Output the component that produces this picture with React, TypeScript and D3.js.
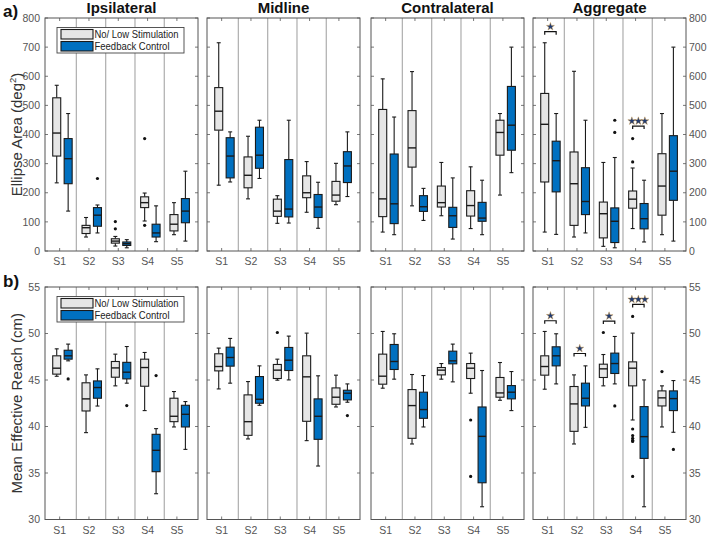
import React from 'react';
import * as d3 from 'd3';

const subjects = ['S1', 'S2', 'S3', 'S4', 'S5'];
const panelTitles = ['Ipsilateral', 'Midline', 'Contralateral', 'Aggregate'];
const legendLabels = ['No/ Low Stimulation', 'Feedback Control'];
const areaTicks = [0, 100, 200, 300, 400, 500, 600, 700, 800];
const reachTicks = [30, 35, 40, 45, 50, 55];

// box stats per subject: [lower whisker, q1, median, q3, upper whisker]
// a) Ellipse area (deg^2)
const ipsiAreaLow = [[234, 326, 405, 526, 569], [48, 60, 80, 88, 115], [17, 27, 34, 42, 50], [103, 149, 166, 186, 199], [56, 69, 92, 125, 166]];
const ipsiAreaHigh = [[137, 231, 317, 386, 472], [62, 85, 123, 149, 158], [11, 19, 25, 31, 39], [32, 48, 62, 92, 155], [34, 97, 137, 180, 274]];
const midAreaLow = [[226, 415, 480, 561, 715], [179, 217, 260, 323, 394], [95, 119, 137, 178, 190], [133, 183, 200, 258, 307], [159, 171, 192, 239, 301]];
const midAreaHigh = [[237, 251, 326, 389, 409], [249, 284, 329, 425, 449], [96, 117, 144, 314, 449], [78, 115, 151, 194, 236], [187, 235, 292, 341, 409]];
const contraAreaLow = [[65, 118, 179, 486, 591], [155, 288, 354, 482, 616], [121, 151, 166, 223, 304], [77, 120, 156, 207, 289], [192, 329, 407, 449, 472]];
const contraAreaHigh = [[56, 94, 162, 333, 460], [105, 136, 152, 190, 215], [41, 81, 121, 150, 251], [56, 102, 113, 167, 243], [269, 346, 432, 565, 700]];
const aggAreaLow = [[65, 237, 435, 541, 715], [48, 88, 231, 340, 617], [16, 45, 128, 168, 304], [77, 147, 178, 206, 285], [56, 123, 223, 334, 472]];
const aggAreaHigh = [[57, 203, 310, 377, 472], [62, 125, 170, 286, 449], [11, 29, 102, 148, 321], [31, 76, 111, 163, 243], [34, 174, 274, 396, 700]];

// b) Mean effective reach (cm)
const ipsiReachLow = [[45.4, 45.63, 46.27, 47.6, 48.35], [39.34, 41.67, 42.97, 44.7, 45.55], [44.37, 45.3, 46.3, 46.99, 47.78], [41.71, 44.33, 46.34, 47.24, 47.96], [39.95, 40.52, 41.1, 43.04, 43.76]];
const ipsiReachHigh = [[47.06, 47.24, 47.6, 48.2, 48.86], [42.2, 43.04, 44.19, 44.9, 46.2], [44.66, 45.12, 45.84, 46.9, 48.6], [32.77, 35.14, 37.44, 39.16, 39.77], [37.54, 39.95, 41.31, 42.28, 42.68]];
const midReachLow = [[44.04, 45.98, 46.45, 47.82, 48.43], [38.66, 39.05, 40.52, 43.4, 44.83], [44.98, 45.16, 46.06, 46.67, 47.24], [38.48, 40.56, 45.34, 47.6, 50.04], [42.1, 42.39, 43.15, 44.15, 45.52]];
const midReachHigh = [[44.66, 46.49, 47.42, 48.53, 49.47], [42.28, 42.5, 42.93, 45.37, 46.52], [45.01, 46.02, 47.13, 48.5, 49.72], [35.75, 38.62, 41.1, 42.97, 45.45], [42.61, 42.86, 43.58, 43.9, 44.58]];
const contraReachLow = [[44.12, 44.55, 45.41, 47.78, 50.22], [38.12, 38.73, 42.25, 43.97, 45.59], [45.09, 45.55, 46.06, 46.34, 46.77], [43.58, 45.16, 46.27, 46.77, 47.89], [42.82, 43.15, 43.61, 45.27, 46.88]];
const contraReachHigh = [[45.09, 46.13, 46.99, 48.82, 49.97], [39.95, 40.88, 41.82, 43.69, 45.48], [44.8, 46.74, 47.06, 48.1, 48.86], [31.37, 33.95, 38.94, 42.1, 46.02], [41.71, 42.97, 43.69, 44.4, 45.91]];
const aggReachLow = [[44.01, 45.52, 46.45, 47.6, 50.22], [38.12, 39.48, 42.43, 44.3, 45.55], [44.37, 45.27, 46.2, 46.7, 47.74], [40.7, 44.37, 46.27, 46.95, 50.04], [39.95, 42.21, 43.08, 43.83, 44.37]];
const aggReachHigh = [[44.58, 46.52, 47.6, 48.57, 49.97], [39.91, 42.21, 43.04, 44.66, 46.52], [44.58, 45.7, 46.77, 47.89, 49.68], [31.37, 36.57, 38.91, 42.14, 45.01], [39.38, 41.71, 43.0, 43.83, 44.94]];

// outliers: [subject, group (0 = no/low, 1 = feedback), value]
const ipsiAreaOut = [[3, 0, 101], [3, 0, 76], [4, 0, 386], [4, 0, 88], [2, 1, 249]];
const aggAreaOut = [[4, 0, 386], [4, 0, 306], [3, 1, 449], [3, 1, 407]];
const ipsiReachOut = [[1, 1, 45.12], [3, 1, 42.25], [4, 1, 45.48]];
const midReachOut = [[3, 0, 50.11], [5, 1, 41.17]];
const contraReachOut = [[4, 0, 40.7], [4, 0, 34.63]];
const aggReachOut = [[3, 0, 50.11], [4, 0, 51.84], [4, 0, 39.73], [4, 0, 39.02], [4, 0, 38.73], [4, 0, 38.51], [4, 0, 38.4], [4, 0, 34.63], [5, 0, 45.91], [3, 1, 42.21], [5, 1, 37.54]];

// significance brackets: [subject, value, number of stars]
const aggAreaSig = [[1, 753, 1], [4, 429, 3]];
const aggReachSig = [[1, 51.37, 1], [2, 47.85, 1], [3, 51.34, 1], [4, 53.13, 3]];

const W = 708;
const H = 534;
const panelLefts = [45, 207, 371, 533];
const panelW = 153;
const font = 'Arial, "Liberation Sans", sans-serif';
const fills = ['#e6e6e6', '#0070c0'];
const axisColor = '#555';

const x = d3.scaleLinear().domain([0.5, 5.72]).range([0, panelW]);
const yA = d3.scaleLinear().domain([0, 800]).range([251, 18]);
const yB = d3.scaleLinear().domain([30, 55]).range([519.5, 287]);
const groupOffset = [-0.1, 0.29];
const boxW = 8;
const star = d3.symbol(d3.symbolStar, 20)();

function Box({ cx, s, y, fill }) {
  const [lo, q1, med, q3, hi] = s;
  const c = '#1a1a1a';
  return (
    <g stroke={c} strokeWidth={1.1}>
      <line x1={cx} x2={cx} y1={y(hi)} y2={y(q3)} />
      <line x1={cx} x2={cx} y1={y(q1)} y2={y(lo)} />
      <line x1={cx - 2} x2={cx + 2} y1={y(hi)} y2={y(hi)} />
      <line x1={cx - 2} x2={cx + 2} y1={y(lo)} y2={y(lo)} />
      <rect x={cx - boxW / 2} y={y(q3)} width={boxW} height={y(q1) - y(q3)} fill={fill} />
      <line x1={cx - boxW / 2} x2={cx + boxW / 2} y1={y(med)} y2={y(med)} strokeWidth={1.4} />
    </g>
  );
}

function Panel({ idx, y, ticks, low, high, out, sig, legend }) {
  const left = panelLefts[idx];
  const [bottom, top] = y.range();
  const seps = [1, 2, 3, 4].map(i => x(i + 0.57));
  return (
    <g transform={`translate(${left},0)`}>
      {seps.map((sx, i) => (
        <line key={i} x1={sx} x2={sx} y1={top} y2={bottom} stroke="#b3b3b3" strokeWidth={1.3} />
      ))}
      {ticks.map(t => (
        <g key={t} stroke={axisColor} strokeWidth={0.8}>
          <line x1={0} x2={3} y1={y(t)} y2={y(t)} />
          <line x1={panelW - 3} x2={panelW} y1={y(t)} y2={y(t)} />
        </g>
      ))}
      {subjects.map((s, i) => (
        <g key={s} stroke={axisColor} strokeWidth={0.8}>
          <line x1={x(i + 1)} x2={x(i + 1)} y1={top} y2={top + 3} />
          <line x1={x(i + 1)} x2={x(i + 1)} y1={bottom} y2={bottom - 3} />
        </g>
      ))}
      {[low, high].map((grp, g) =>
        grp.map((s, i) => (
          <Box key={`${g}-${i}`} cx={x(i + 1 + groupOffset[g])} s={s} y={y} fill={fills[g]} />
        ))
      )}
      {(out || []).map(([si, g, v], i) => (
        <circle key={i} cx={x(si + groupOffset[g])} cy={y(v)} r={1.6} fill="#111" />
      ))}
      {(sig || []).map(([si, v, n], i) => {
        const x0 = x(si + groupOffset[0]);
        const x1 = x(si + groupOffset[1]);
        const yy = y(v);
        const mid = (x0 + x1) / 2;
        const stars = d3.range(n).map(k => mid + (k - (n - 1) / 2) * 6.5);
        return (
          <g key={i}>
            <path d={`M${x0},${yy + 3}V${yy}H${x1}V${yy + 3}`} fill="none" stroke="#111" strokeWidth={1.2} />
            {stars.map((sx, k) => (
              <path key={k} d={star} transform={`translate(${sx},${yy - 5})`} fill="#1f3b73" stroke="#c8903a" strokeWidth={0.4} />
            ))}
          </g>
        );
      })}
      <rect x={0} y={top} width={panelW} height={bottom - top} fill="none" stroke={axisColor} strokeWidth={1} />
      {subjects.map((s, i) => (
        <text key={s} x={x(i + 1)} y={bottom + 14} textAnchor="middle" fontSize={10.5} fill={axisColor}>{s}</text>
      ))}
      {idx === 0 && ticks.map(t => (
        <text key={t} x={-5} y={y(t)} dy="0.35em" textAnchor="end" fontSize={10.5} fill={axisColor}>{t}</text>
      ))}
      {idx === 3 && ticks.map(t => (
        <text key={t} x={panelW + 3} y={y(t)} dy="0.35em" textAnchor="start" fontSize={10.5} fill={axisColor}>{t}</text>
      ))}
      {legend && (
        <g transform={`translate(12,${top + 9.5})`}>
          <rect x={0} y={0} width={127} height={25.5} fill="#fff" stroke="#444" strokeWidth={0.9} />
          {legendLabels.map((l, i) => (
            <g key={l}>
              <rect x={4} y={2 + i * 12} width={32} height={9.5} fill={fills[i]} stroke="#1a1a1a" strokeWidth={1.1} />
              <text x={37.5} y={10 + i * 12} fontSize={10.5} fill="#222" textLength={i === 0 ? 84 : 75} lengthAdjust="spacingAndGlyphs">{l}</text>
            </g>
          ))}
        </g>
      )}
    </g>
  );
}

const rowsA = [
  [ipsiAreaLow, ipsiAreaHigh, ipsiAreaOut, null],
  [midAreaLow, midAreaHigh, null, null],
  [contraAreaLow, contraAreaHigh, null, null],
  [aggAreaLow, aggAreaHigh, aggAreaOut, aggAreaSig],
];
const rowsB = [
  [ipsiReachLow, ipsiReachHigh, ipsiReachOut, null],
  [midReachLow, midReachHigh, midReachOut, null],
  [contraReachLow, contraReachHigh, contraReachOut, null],
  [aggReachLow, aggReachHigh, aggReachOut, aggReachSig],
];

export default function App() {
  return (
    <div style={{ position: 'absolute', left: 0, top: 0, width: W, height: H, background: '#fff' }}>
      <svg width={W} height={H} style={{ display: 'block', fontFamily: font }}>
        <rect width={W} height={H} fill="#fff" />
        {panelTitles.map((t, i) => (
          <text key={t} x={panelLefts[i] + panelW / 2} y={12.5} textAnchor="middle" fontSize={15} fontWeight="bold" fill="#111">{t}</text>
        ))}
        <text x={3} y={17} fontSize={17} fontWeight="bold" fill="#111">a)</text>
        <text x={3} y={287} fontSize={17} fontWeight="bold" fill="#111">b)</text>
        <text transform={`translate(22,${(yA.range()[0] + yA.range()[1]) / 2}) rotate(-90)`} textAnchor="middle" fontSize={15} fill="#333">
          Ellipse Area (deg<tspan dy={-6} fontSize={9.5}>2</tspan><tspan dy={6}>)</tspan>
        </text>
        <text transform={`translate(22,${(yB.range()[0] + yB.range()[1]) / 2}) rotate(-90)`} textAnchor="middle" fontSize={15} fill="#333">
          Mean Effective Reach (cm)
        </text>
        {rowsA.map(([lo, hi, out, sig], i) => (
          <Panel key={`a${i}`} idx={i} y={yA} ticks={areaTicks} low={lo} high={hi} out={out} sig={sig} legend={i === 0} />
        ))}
        {rowsB.map(([lo, hi, out, sig], i) => (
          <Panel key={`b${i}`} idx={i} y={yB} ticks={reachTicks} low={lo} high={hi} out={out} sig={sig} legend={i === 0} />
        ))}
      </svg>
    </div>
  );
}
